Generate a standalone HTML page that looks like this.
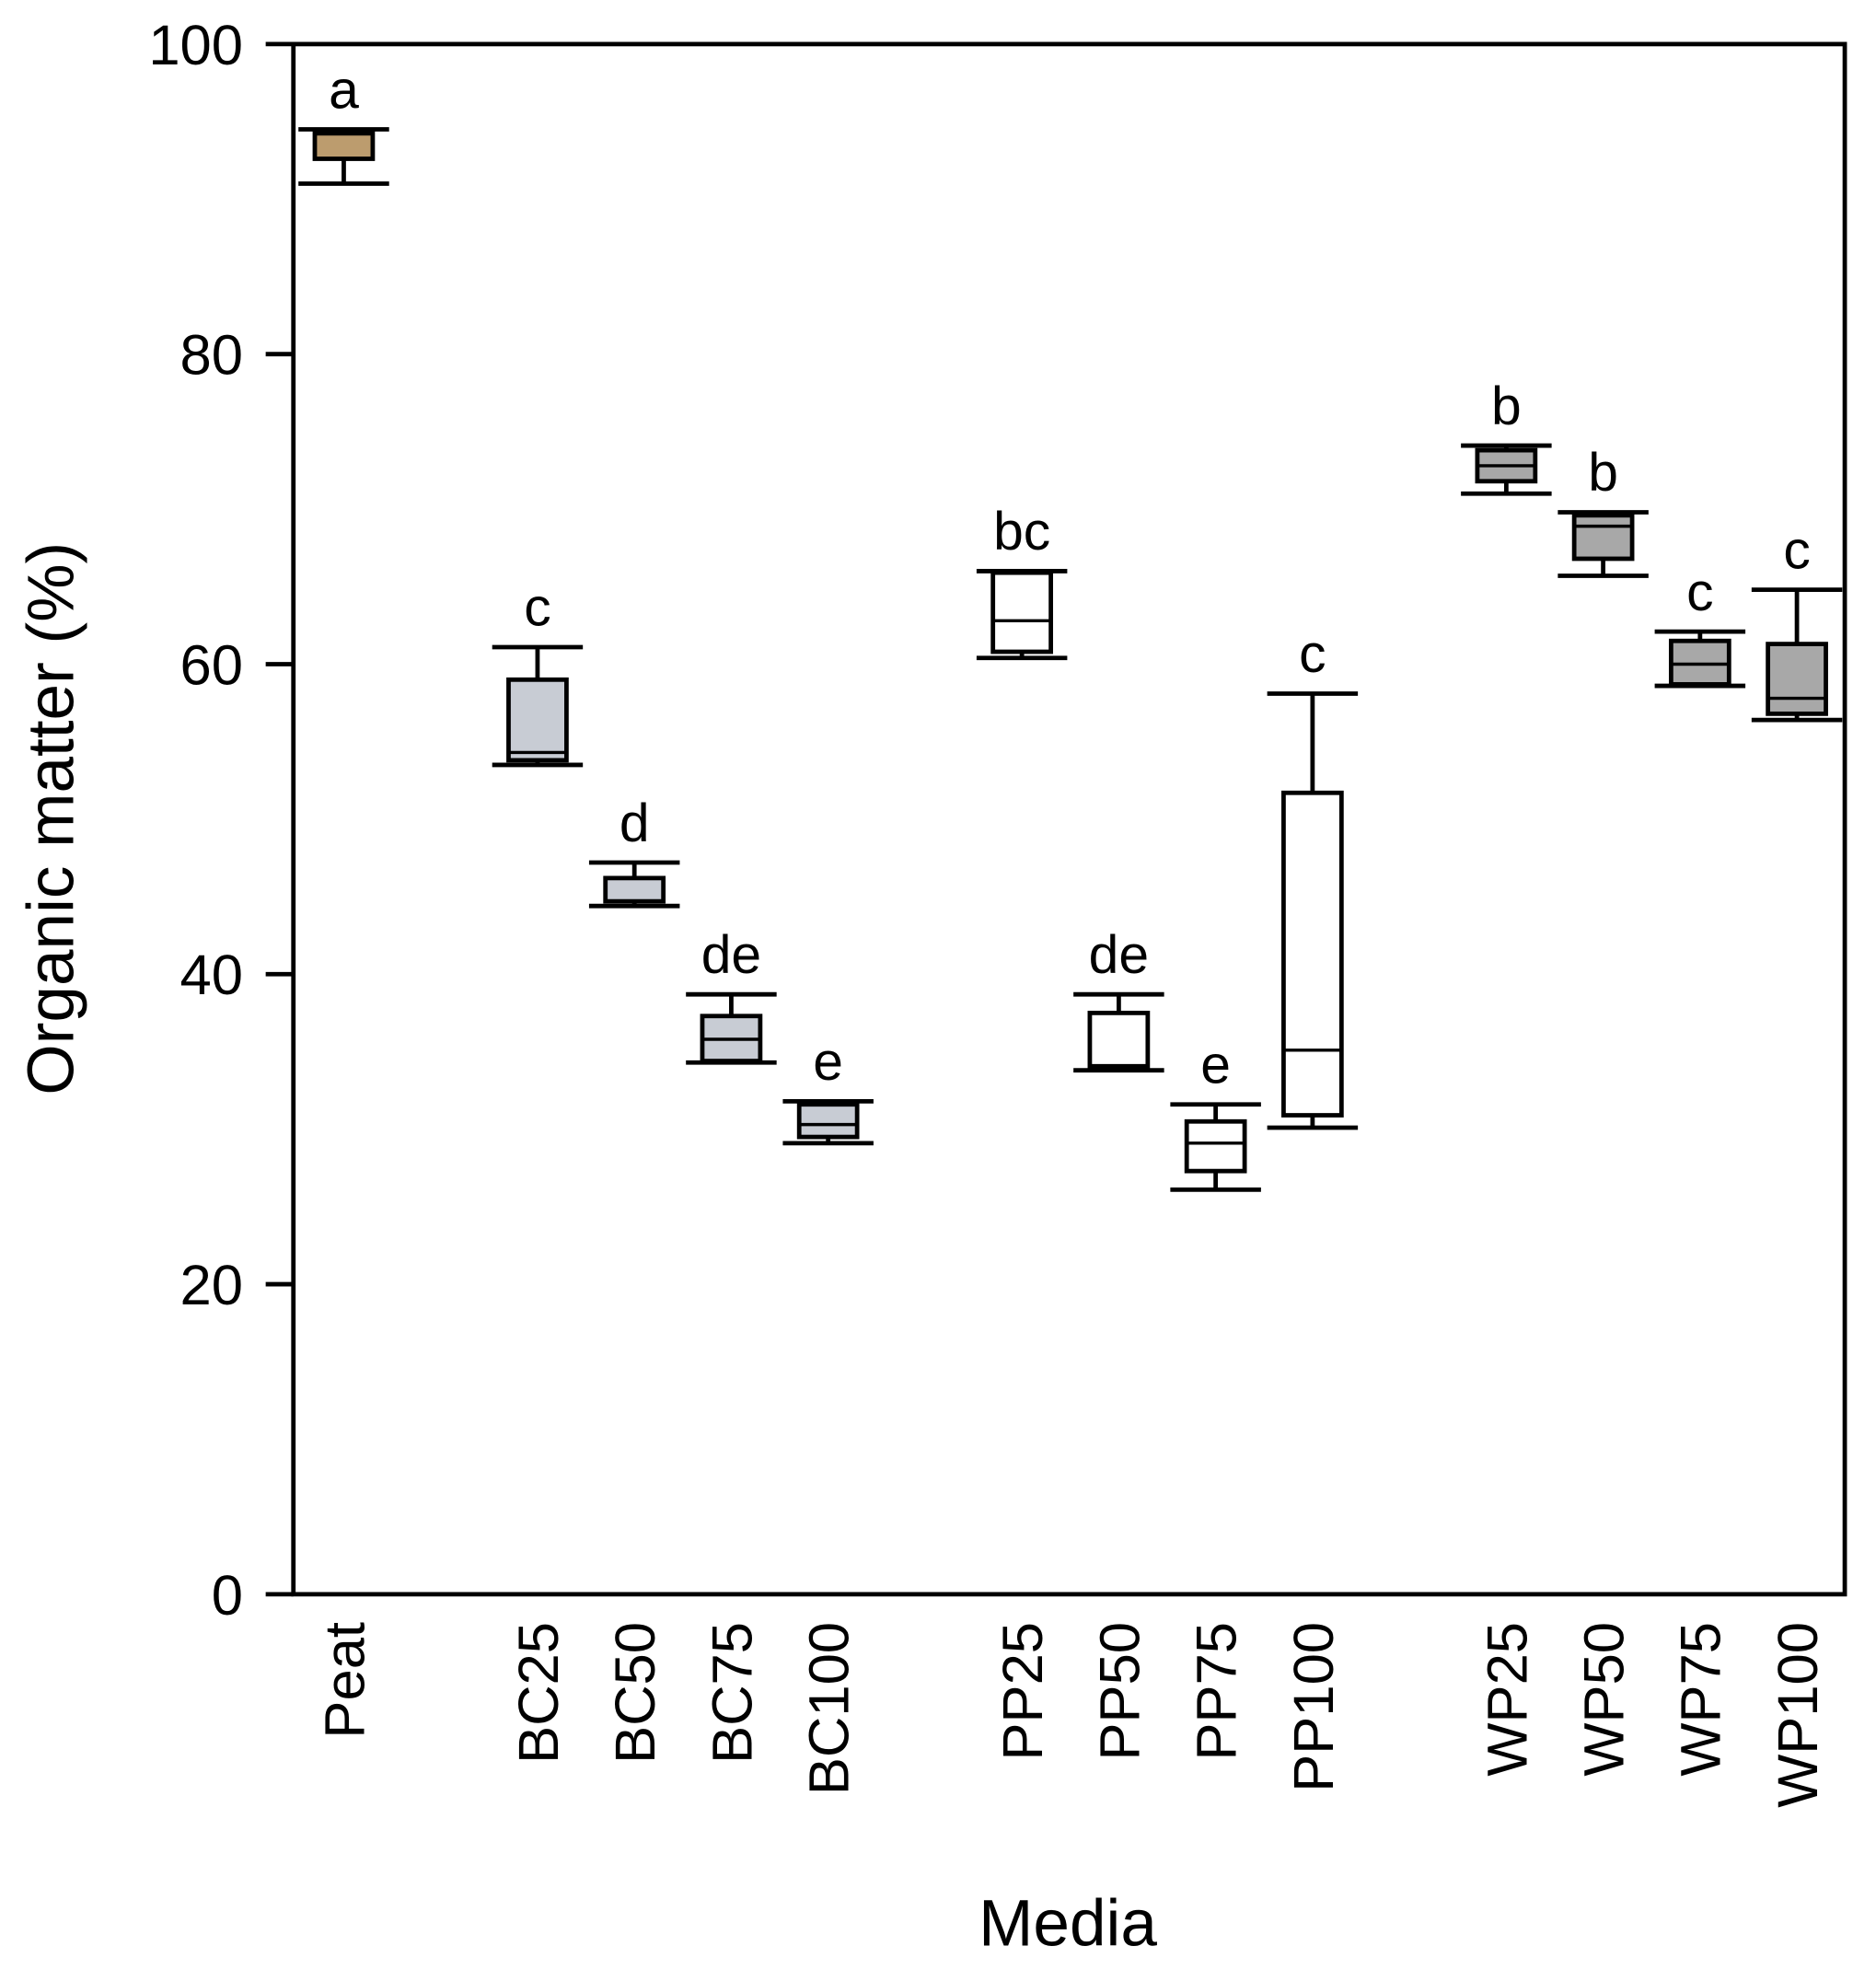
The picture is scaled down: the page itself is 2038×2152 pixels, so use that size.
<!DOCTYPE html>
<html><head><meta charset="utf-8"><style>html,body{margin:0;padding:0;background:#fff}svg{display:block}text{font-family:"Liberation Sans",Arial,sans-serif;fill:#000}</style></head>
<body>
<svg id="chart" width="2038" height="2152" viewBox="0 0 1489.8 1573.1" xmlns="http://www.w3.org/2000/svg">
<rect x="233" y="35" width="1232" height="1231" fill="none" stroke="#000" stroke-width="3.5"/>
<text transform="translate(58,650) rotate(-90)" text-anchor="middle" font-size="52">Organic matter (%)</text>
<text x="848" y="1545" text-anchor="middle" font-size="52">Media</text>
<g id="marks"></g>
</svg>
<script>
const categories=["Peat","BC25","BC50","BC75","BC100","PP25","PP50","PP75","PP100","WP25","WP50","WP75","WP100"];
const slots=[0,2,3,4,5,7,8,9,10,12,13,14,15];
const whiskerHigh=[94.5,61.1,47.2,38.7,31.8,66.0,38.7,31.6,58.1,74.1,69.8,62.1,64.8];
const q3=[94.3,59.0,46.2,37.3,31.6,65.9,37.5,30.5,51.7,73.8,69.6,61.5,61.3];
const medians=[94.2,54.3,46.2,35.8,30.3,62.8,34.1,29.1,35.1,72.8,68.9,60.0,57.8];
const q1=[92.6,53.8,44.7,34.4,29.5,60.8,34.0,27.3,30.9,71.8,66.8,58.7,56.8];
const whiskerLow=[91.0,53.5,44.4,34.3,29.1,60.4,33.8,26.1,30.1,71.0,65.7,58.6,56.4];
const letters=["a","c","d","de","e","bc","de","e","c","b","b","c","c"];
const fills=["#bc9c6e","#c8ccd4","#c8ccd4","#c8ccd4","#c8ccd4","#ffffff","#ffffff","#ffffff","#ffffff","#a8a8a8","#a8a8a8","#a8a8a8","#a8a8a8"];
const yTicks=[0,20,40,60,80,100];
const NS="http://www.w3.org/2000/svg";
const g=document.getElementById("marks");
function y(v){return 1266-(v/100)*1231;}
function x(i){return 273+slots[i]*(1427-273)/15;}
function mk(t,a){const e=document.createElementNS(NS,t);for(const k in a)e.setAttribute(k,a[k]);g.appendChild(e);return e;}
yTicks.forEach(t=>{
  const l=mk("line",{x1:211,x2:233,y1:y(t),y2:y(t),stroke:"#000","stroke-width":3.5});
  
  
  const tx=mk("text",{x:193,y:y(t)+16,"text-anchor":"end","font-size":45});
  tx.textContent=t;
  
  
});
categories.forEach((c,i)=>{
  const cx=x(i),bw=23,cw=36;
  const w1=mk("line",{x1:cx,x2:cx,y1:y(whiskerHigh[i]),y2:y(q3[i]),stroke:"#000","stroke-width":3.5});
  
  
  const w2=mk("line",{x1:cx,x2:cx,y1:y(q1[i]),y2:y(whiskerLow[i]),stroke:"#000","stroke-width":3.5});
  
  
  const b=mk("rect",{x:cx-bw,y:y(q3[i]),width:2*bw,height:Math.max(1,y(q1[i])-y(q3[i])),fill:fills[i],stroke:"#000","stroke-width":3.5});
  
  
  const m=mk("line",{x1:cx-bw,x2:cx+bw,y1:y(medians[i]),y2:y(medians[i]),stroke:"#000","stroke-width":2.5});
  
  
  const c1=mk("line",{x1:cx-cw,x2:cx+cw,y1:y(whiskerHigh[i]),y2:y(whiskerHigh[i]),stroke:"#000","stroke-width":3.5});
  
  
  const c2=mk("line",{x1:cx-cw,x2:cx+cw,y1:y(whiskerLow[i]),y2:y(whiskerLow[i]),stroke:"#000","stroke-width":3.5});
  
  
  const lt=mk("text",{x:cx,y:y(whiskerHigh[i])-17,"text-anchor":"middle","font-size":43});
  lt.textContent=letters[i];
  
  
  const xl=mk("text",{transform:"translate("+(cx+16)+",1288) rotate(-90)","text-anchor":"end","font-size":45});
  xl.textContent=c;
  
  
});
</script>
</body></html>
